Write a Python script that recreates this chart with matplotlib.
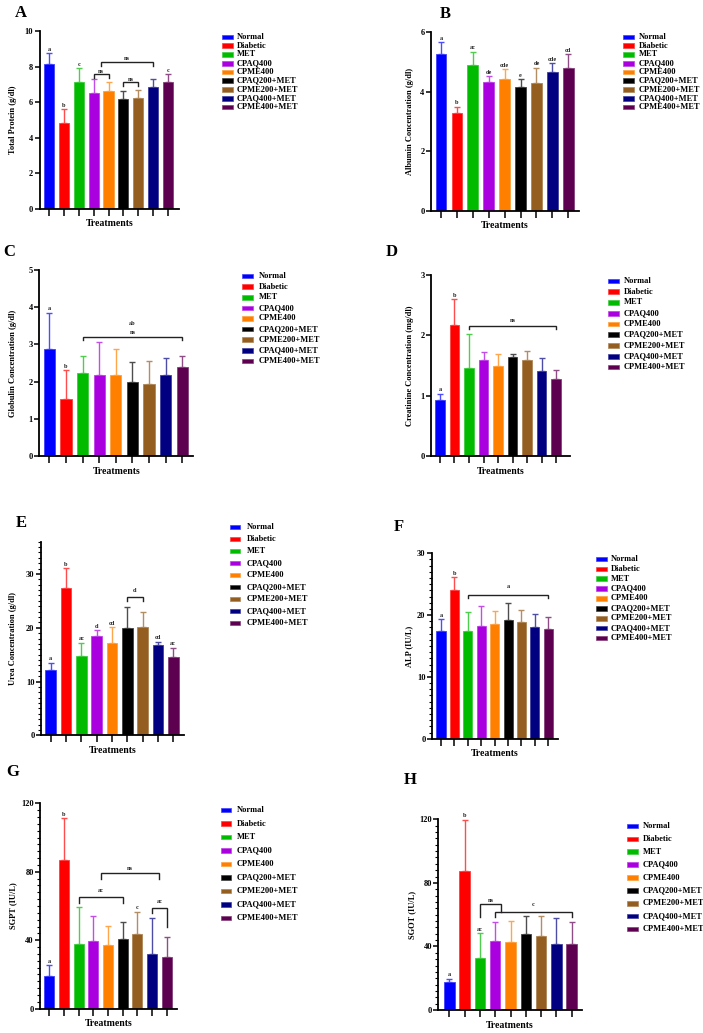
import matplotlib
matplotlib.use("Agg")
import matplotlib.pyplot as plt
from matplotlib.patches import Rectangle
from matplotlib.ticker import MultipleLocator
import matplotlib.colors as mcolors

plt.rcParams['font.family'] = ['Liberation Serif', 'DejaVu Serif']
plt.rcParams['font.weight'] = 'bold'

W, H = 703, 1033

groups = ["Normal", "Diabetic", "MET", "CPAQ400", "CPME400",
          "CPAQ200+MET", "CPME200+MET", "CPAQ400+MET", "CPME400+MET"]
colors = ["#0000FF", "#FF0000", "#00BB00", "#AA00E0", "#FF8000",
          "#000000", "#935E1F", "#000080", "#5E0050"]

# ---- data (mean, upper error-bar end) ----
tp_mean = [8.13, 4.82, 7.12, 6.50, 6.62, 6.17, 6.22, 6.84, 7.16]
tp_top = [8.75, 5.61, 7.90, 7.29, 7.12, 6.62, 6.67, 7.29, 7.57]
tp_let = ["a", "b", "c", "", "", "", "", "", "c"]

alb_mean = [5.27, 3.30, 4.90, 4.32, 4.43, 4.17, 4.30, 4.66, 4.79]
alb_top = [5.66, 3.50, 5.35, 4.52, 4.75, 4.43, 4.81, 4.96, 5.27]
alb_let = ["a", "b", "ac", "de", "cde", "e", "de", "cde", "cd"]

glob_mean = [2.87, 1.52, 2.22, 2.19, 2.18, 1.98, 1.93, 2.19, 2.38]
glob_top = [3.85, 2.31, 2.70, 3.06, 2.87, 2.52, 2.56, 2.63, 2.68]
glob_let = ["a", "b", "", "", "", "", "", "", ""]

crea_mean = [0.92, 2.16, 1.46, 1.59, 1.49, 1.63, 1.59, 1.40, 1.27]
crea_top = [1.03, 2.59, 2.02, 1.72, 1.68, 1.69, 1.73, 1.62, 1.42]
crea_let = ["a", "b", "", "", "", "", "", "", ""]

urea_mean = [12.1, 27.3, 14.75, 18.5, 17.1, 19.9, 20.1, 16.7, 14.5]
urea_top = [13.5, 31.1, 17.2, 19.5, 20.1, 23.9, 22.9, 17.4, 16.3]
urea_let = ["a", "b", "ac", "d", "cd", "", "", "cd", "ac"]

alp_mean = [17.4, 24.1, 17.4, 18.3, 18.55, 19.15, 18.85, 18.1, 17.8]
alp_top = [19.3, 26.1, 20.45, 21.4, 20.6, 22.0, 20.8, 20.1, 19.75]
alp_let = ["a", "b", "", "", "", "", "", "", ""]

sgpt_mean = [19.1, 86.9, 37.6, 39.5, 37.0, 40.7, 43.6, 31.9, 30.2]
sgpt_top = [25.3, 111.2, 59.2, 54.0, 48.5, 50.5, 56.7, 53.2, 42.1]
sgpt_let = ["a", "b", "", "", "", "", "c", "", ""]

sgot_mean = [17.4, 87.5, 32.9, 43.4, 42.6, 47.8, 46.6, 41.3, 41.7]
sgot_top = [19.5, 119.6, 48.2, 55.4, 56.2, 58.9, 59.2, 58.1, 55.2]
sgot_let = ["a", "b", "ac", "", "", "", "", "", ""]

# brackets: (x1, x2, y, left_leg_end, right_leg_end, label, label_y)
tp_br = [(3, 4, 7.59, 7.36, 7.36, "ns", 7.72),
         (5, 6, 7.16, 6.93, 6.93, "ns", 7.29),
         (3.5, 7, 8.28, 8.06, 8.06, "ns", 8.45)]
glob_br = [(2, 8, 3.21, 3.13, 3.13, "ns", 3.32), (None, 5, None, None, None, "ab", 3.57)]
crea_br = [(2, 8, 2.15, 2.10, 2.10, "ns", 2.25)]
urea_br = [(5, 6, 25.8, 24.9, 24.9, "d", 26.9)]
alp_br = [(2, 8, 23.3, 22.7, 22.7, "a", 24.7)]
sgpt_br = [(2, 5, 65.3, 62.0, 62.0, "ac", 69.0),
           (3.5, 7.5, 79.1, 76.0, 76.0, "ns", 82.0),
           (7, 8, 58.6, 56.0, 48.0, "ac", 62.5)]
sgot_br = [(2, 3.4, 66.7, 58.5, 61.5, "ns", 69.2),
           (3, 8, 61.5, 58.5, 58.5, "c", 66.1)]

panels = [
    dict(letter="A", mean=tp_mean, top=tp_top, let=tp_let, br=tp_br, ymax=10, major=2, minor=None,
         ylabel="Total Protein (g/dl)", ax_px=(39.5, 179, 31, 209), centers=(49.3, 167.7),
         leg=(222, 237, 37, 107), ylab_x=13, let_xy=(21, 13)),
    dict(letter="B", mean=alb_mean, top=alb_top, let=alb_let, br=[], ymax=6, major=2, minor=None,
         ylabel="Albumin Concentration (g/dl)", ax_px=(430.7, 579.3, 32.3, 210.7), centers=(441, 568.3),
         leg=(623, 639, 37, 107), ylab_x=410, let_xy=(445, 14)),
    dict(letter="C", mean=glob_mean, top=glob_top, let=glob_let, br=glob_br, ymax=5, major=1, minor=None,
         ylabel="Globulin Concentration (g/dl)", ax_px=(39.3, 193.3, 270, 456), centers=(49.3, 182.3),
         leg=(242, 259, 276, 361), ylab_x=13, let_xy=(9, 252)),
    dict(letter="D", mean=crea_mean, top=crea_top, let=crea_let, br=crea_br, ymax=3, major=1, minor=None,
         ylabel="Creatinine Concentration (mg/dl)", ax_px=(430.7, 570, 274.7, 456), centers=(440, 556),
         leg=(608, 624, 281, 367), ylab_x=410, let_xy=(392, 252)),
    dict(letter="E", mean=urea_mean, top=urea_top, let=urea_let, br=urea_br, ymax=36, major=10, minor=1,
         ylabel="Urea Concentration (g/dl)", ax_px=(40.7, 184.3, 541.7, 735.3), centers=(50.7, 173.3),
         leg=(230, 247, 527, 623), ylab_x=13, let_xy=(21, 523)),
    dict(letter="F", mean=alp_mean, top=alp_top, let=alp_let, br=alp_br, ymax=30, major=10, minor=1,
         ylabel="ALP (IU/L)", ax_px=(431.7, 558.3, 553.3, 738.7), centers=(441, 548.3),
         leg=(596, 611, 559, 638), ylab_x=409, let_xy=(399, 527)),
    dict(letter="G", mean=sgpt_mean, top=sgpt_top, let=sgpt_let, br=sgpt_br, ymax=120, major=40, minor=4,
         ylabel="SGPT (IU/L)", ax_px=(40, 176.7, 803.3, 1008.7), centers=(49.3, 166.7),
         leg=(221, 237, 810, 918), ylab_x=13, let_xy=(13, 772)),
    dict(letter="H", mean=sgot_mean, top=sgot_top, let=sgot_let, br=sgot_br, ymax=120, major=40, minor=4,
         ylabel="SGOT (IU/L)", ax_px=(438.3, 581.7, 819.3, 1010), centers=(449.3, 571.7),
         leg=(627, 643, 826, 929), ylab_x=412, let_xy=(410, 780)),
]

fig = plt.figure(figsize=(W / 100, H / 100), dpi=100)


def lighten(c, f=0.3):
    r, g, b = mcolors.to_rgb(c)
    return (r + (1 - r) * f, g + (1 - g) * f, b + (1 - b) * f)


for p in panels:
    xl, xr, yt, yb = p["ax_px"]
    c0, c8 = p["centers"]
    sp = (c8 - c0) / 8
    ax = fig.add_axes([xl / W, 1 - yb / H, (xr - xl) / W, (yb - yt) / H])
    ax.set_xlim((xl - c0) / sp, (xr - c0) / sp)
    ax.set_ylim(0, p["ymax"])
    xs = list(range(9))
    for i in xs:
        ax.bar(i, p["mean"][i], width=0.68, color=colors[i],
               edgecolor=lighten(colors[i], 0.25), linewidth=0.6, zorder=2)
        ax.errorbar(i, p["mean"][i], yerr=[[0], [p["top"][i] - p["mean"][i]]],
                    fmt="none", ecolor=lighten(colors[i], 0.3), elinewidth=1.0,
                    capsize=2.3, capthick=1.0, zorder=1)
        if p["let"][i]:
            ax.text(i, p["top"][i] + p["ymax"] * 0.008, p["let"][i], ha="center", va="bottom",
                    fontsize=4.5, fontweight="bold", color="#222222")
    for (x1, x2, y, l1, l2, lab, ly) in p["br"]:
        if x1 is None:
            ax.text(x2, ly, lab, ha="center", va="center", fontsize=4.5, fontweight="bold", color="#222222")
            continue
        ax.plot([x1, x1, x2, x2], [l1, y, y, l2], color="#222222", lw=1.0,
                solid_joinstyle="miter", clip_on=False, zorder=3)
        ax.text((x1 + x2) / 2, ly, lab, ha="center", va="center", fontsize=4.5,
                fontweight="bold", color="#222222")
    for s in ["top", "right"]:
        ax.spines[s].set_visible(False)
    for s in ["left", "bottom"]:
        ax.spines[s].set_linewidth(1.3)
    ax.set_xticks(xs)
    ax.set_xticklabels([])
    ax.tick_params(axis="x", length=5, width=1.1, direction="out")
    ax.yaxis.set_major_locator(MultipleLocator(p["major"]))
    if p["minor"]:
        ax.yaxis.set_minor_locator(MultipleLocator(p["minor"]))
        ax.tick_params(axis="y", which="minor", length=2, width=0.8)
    ax.tick_params(axis="y", which="major", length=3.5, width=1.1, labelsize=6, pad=1)
    for t in ax.get_yticklabels():
        t.set_fontweight("bold")

    # axis titles
    fig.text(((xl + xr) / 2) / W, 1 - (yb + 15) / H, "Treatments", ha="center", va="center",
             fontsize=7, fontweight="bold")
    fig.text(p["ylab_x"] / W, 1 - ((yt + yb) / 2) / H, p["ylabel"], rotation=90,
             ha="center", va="center", fontsize=6, fontweight="bold")
    fig.text(p["let_xy"][0] / W, 1 - p["let_xy"][1] / H, p["letter"], ha="center", va="center",
             fontsize=12, fontweight="bold")

    # legend
    px, tx, y0, y1 = p["leg"]
    step = (y1 - y0) / 8
    for i, g in enumerate(groups):
        yy = y0 + i * step
        fig.add_artist(Rectangle((px / W, 1 - (yy + 2.3) / H), 10.5 / W, 4.6 / H,
                                 transform=fig.transFigure, facecolor=colors[i],
                                 edgecolor=lighten(colors[i], 0.25), linewidth=0.5))
        fig.text(tx / W, 1 - yy / H, g, ha="left", va="center", fontsize=6, fontweight="bold")

fig.savefig("out.png", dpi=100)
